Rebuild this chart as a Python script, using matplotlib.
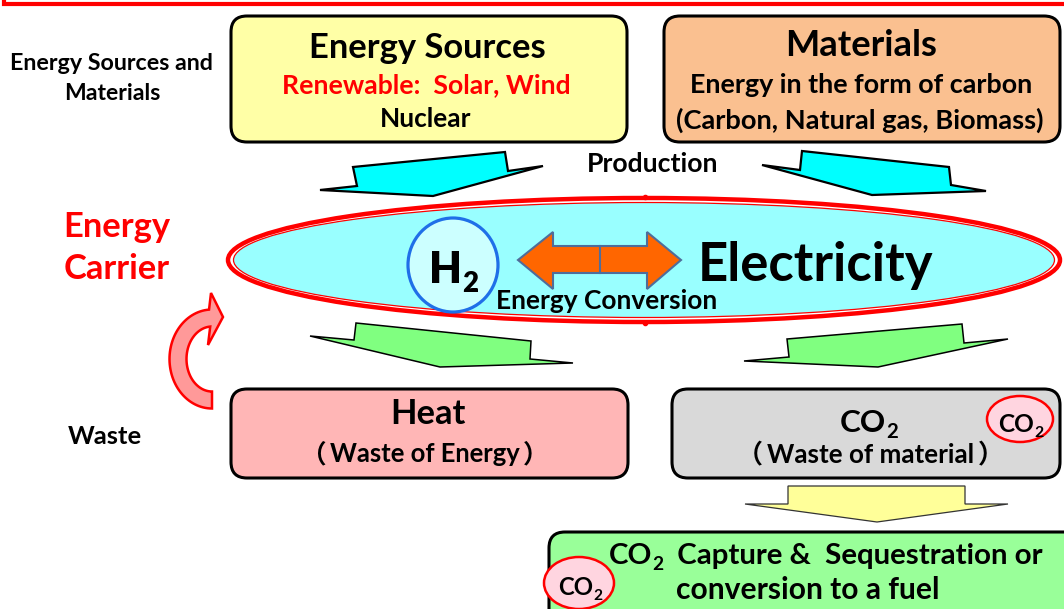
import matplotlib
matplotlib.use('Agg')
import matplotlib.pyplot as plt
import numpy as np
from matplotlib.patches import FancyBboxPatch, Ellipse, Polygon, Rectangle

# Textos do diagrama
rotulos_esquerda = ['Energy Sources and', 'Materials']
rotulo_carrier = ['Energy', 'Carrier']
rotulo_waste = 'Waste'
caixa_fontes = ['Energy Sources', 'Renewable:  Solar, Wind', 'Nuclear']
caixa_materiais = ['Materials', 'Energy in the form of carbon', '(Carbon, Natural gas, Biomass)']
texto_producao = 'Production'
texto_eletricidade = 'Electricity'
texto_conversao = 'Energy Conversion'
caixa_calor = ['Heat', 'Waste of Energy']
caixa_co2 = 'Waste of material'
caixa_captura = ['Capture &  Sequestration or', 'conversion to a fuel']
parenteses = ['（', '）']

plt.rcParams['font.family'] = ['Lato', 'Noto Sans CJK JP', 'DejaVu Sans']

fig = plt.figure(figsize=(10.64, 6.09), dpi=100)
ax = fig.add_axes([0, 0, 1, 1])
ax.set_xlim(0, 1064)
ax.set_ylim(609, 0)
ax.axis('off')
renderer = fig.canvas.get_renderer()


def texto(x, y, s, largura, cor='black', va='center', peso='bold'):
    # Ajusta o tamanho da fonte para ocupar a largura desejada (em pixels)
    t = ax.text(x, y, s, ha='center', va=va, color=cor, fontsize=20,
                fontweight=peso, zorder=10)
    w = t.get_window_extent(renderer).width
    t.set_fontsize(20 * largura / w)
    return t.get_fontsize()


def texto_partes(xc, y_base, partes, largura, cor='black', peso='bold'):
    # partes: (texto, subscrito?) desenhados lado a lado
    objs = []
    for s, sub in partes:
        t = ax.text(0, y_base, s, ha='left', va='baseline', color=cor,
                    fontsize=20 * (0.65 if sub else 1), fontweight=peso, zorder=10)
        objs.append((t, sub))
    total = sum(t.get_window_extent(renderer).width for t, _ in objs)
    k = largura / total
    x = xc - largura / 2
    for t, sub in objs:
        t.set_fontsize(t.get_fontsize() * k)
        if sub:
            t.set_y(y_base + 0.2 * 20 * k * 100 / 72)
        t.set_x(x)
        x += t.get_window_extent(renderer).width


def texto_parenteses(xc, y_base, s, largura, x_esq, x_dir):
    # Texto entre parênteses de largura cheia
    tam = texto(xc, y_base, s, largura, va='baseline')
    ax.text(x_esq, y_base, parenteses[0], ha='right', va='baseline', fontsize=tam,
            family=['Noto Sans CJK JP'], fontweight='bold', zorder=10)
    ax.text(x_dir, y_base, parenteses[1], ha='left', va='baseline', fontsize=tam,
            family=['Noto Sans CJK JP'], fontweight='bold', zorder=10)


def caixa(x, y, w, h, cor):
    ax.add_patch(FancyBboxPatch((x, y), w, h, boxstyle='round,pad=0,rounding_size=16',
                                fc=cor, ec='black', lw=2.2, zorder=2))


def seta(pontos, cor, lw=1.2, borda='black', z=3):
    ax.add_patch(Polygon(pontos, closed=True, fc=cor, ec=borda, lw=lw, zorder=z))


# Moldura vermelha no topo
ax.add_patch(Rectangle((4, -20), 1100, 24, fc='none', ec='#FF0000', lw=3))

# Caixas de cima
caixa(231, 16, 396, 126, '#FFFFA6')
caixa(664, 16, 396, 126, '#FAC090')

texto(111, 64, rotulos_esquerda[0], 203)
texto(112, 94, rotulos_esquerda[1], 96)

texto(427, 48, caixa_fontes[0], 237)
texto(426, 85, caixa_fontes[1], 289, cor='#FF0000')
texto(426, 119, caixa_fontes[2], 91)

texto(861, 46, caixa_materiais[0], 152)
texto(861, 85, caixa_materiais[1], 342)
texto(860, 120, caixa_materiais[2], 369)

texto(653, 164, texto_producao, 132)

# Setas de produção (ciano)
seta([(320, 190), (357, 186), (353, 167), (505, 152), (508, 171), (543, 166), (433, 196)],
     '#00FFFF', lw=1.6)
seta([(762, 165), (800, 170), (802, 151), (949, 167), (951, 185), (986, 191), (872, 195)],
     '#00FFFF', lw=1.6)

# Elipse do portador de energia
ax.add_patch(Ellipse((644, 260), 832, 124, fc='white', ec='#FF0000', lw=3.2, zorder=4))
ax.add_patch(Ellipse((644, 260), 821, 115, fc='#99FFFF', ec='#FF0000', lw=0.9, zorder=4))
ax.plot([645, 645], [197, 323], ls='none', marker='o', ms=3, color='#FF0000', zorder=5)

texto(117, 227, rotulo_carrier[0], 107, cor='#FF0000')
texto(117, 269, rotulo_carrier[1], 106, cor='#FF0000')

# Círculo do H2
ax.add_patch(Ellipse((453, 265), 90, 94, fc='#CCFFFF', ec='#1F6FE8', lw=2.3, zorder=5))
texto_partes(454, 283, [('H', False), ('2', True)], 49, peso='heavy')

# Seta dupla laranja
seta([(518, 260), (553, 232), (553, 246), (647, 246), (647, 232), (681, 260),
      (647, 289), (647, 273), (553, 273), (553, 289)], '#FF6600', lw=1.5,
     borda='#4F6D9A', z=6)
ax.plot([600, 600], [246, 273], color='#4F6D9A', lw=1.5, zorder=6)

texto(815, 266, texto_eletricidade, 236)
texto(607, 301, texto_conversao, 221)

# Setas verdes
seta([(310, 336), (354, 340), (356, 323), (531, 341), (530, 359), (573, 363), (440, 367)],
     '#80FF80', lw=1.1)
seta([(744, 361), (789, 357), (787, 339), (962, 324), (964, 343), (1008, 339), (878, 367)],
     '#80FF80', lw=1.1)

# Seta curva vermelha (reaproveitamento do calor)
cx, cy, rx, ry, meia = 212, 359, 34, 41, 8.5
t = np.radians(np.linspace(90, 266, 60))
externo = np.column_stack([cx + (rx + meia) * np.cos(t), cy + (ry + meia) * np.sin(t)])
interno = np.column_stack([cx + (rx - meia) * np.cos(t), cy + (ry - meia) * np.sin(t)])[::-1]
cabeca = np.array([(211, 293), (223, 317), (208, 345)])
contorno = np.vstack([externo, cabeca, interno])
ax.add_patch(Polygon(contorno, closed=True, fc='#FF9999', ec='#FF0000', lw=1.8, zorder=3))

texto(105, 437, rotulo_waste, 74)

# Caixas de resíduos
caixa(231, 389, 397, 89, '#FFB6B6')
caixa(672, 389, 388, 89, '#D9D9D9')

texto(428, 414, caixa_calor[0], 75)
texto_parenteses(425, 462, caixa_calor[1], 190, 326, 523)
texto_partes(869, 432, [('CO', False), ('2', True)], 58)
texto_parenteses(871, 463, caixa_co2, 207, 763, 978)

ax.add_patch(Ellipse((1020, 419), 66, 46, fc='#FFD5E0', ec='#FF0000', lw=1.8, zorder=5))
texto_partes(1021, 432, [('CO', False), ('2', True)], 45)

# Seta amarela para baixo
seta([(788, 486), (965, 486), (965, 504), (1008, 504), (877, 522), (745, 504), (788, 504)],
     '#FFFF99', lw=0.9, borda='#333333')

# Caixa de captura
caixa(549, 532, 540, 120, '#99FF99')
texto_partes(826, 564, [('CO', False), ('2', True), ('  ' + caixa_captura[0], False)], 435)
texto(808, 590, caixa_captura[1], 263)

ax.add_patch(Ellipse((579, 583), 70, 52, fc='#FFD5E0', ec='#FF0000', lw=1.8, zorder=5))
texto_partes(580, 595, [('CO', False), ('2', True)], 44)

fig.savefig('out.png', dpi=100)
